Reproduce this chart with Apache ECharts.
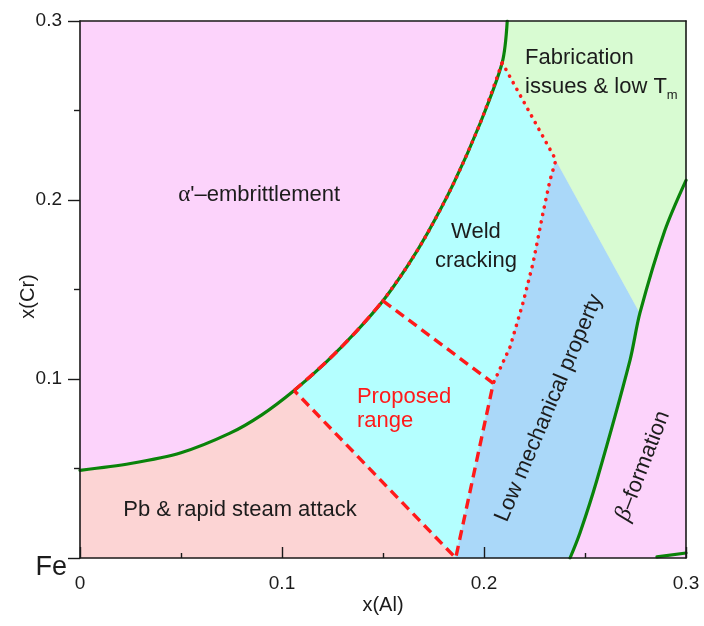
<!DOCTYPE html>
<html>
<head>
<meta charset="utf-8">
<script src="https://cdn.jsdelivr.net/npm/echarts@6/dist/echarts.min.js"></script>
<style>
  html, body { margin: 0; padding: 0; background: #ffffff; }
  #chart { width: 704px; height: 626px; }
</style>
</head>
<body>
<div id="chart"></div>
<script>
// Fe–Cr–Al composition map: x(Al) vs x(Cr), mole fractions.

// α' (Cr-rich) miscibility boundary
const alphaX = [0, 0.025, 0.05, 0.074, 0.09, 0.106, 0.122, 0.137, 0.150, 0.162, 0.172, 0.185, 0.198, 0.209, 0.2115];
const alphaY = [0.049, 0.0528, 0.0588, 0.0696, 0.08, 0.0936, 0.1096, 0.1268, 0.1437, 0.1629, 0.1814, 0.2094, 0.2426, 0.2767, 0.3];

// β-phase boundary
const betaX = [0.2426, 0.2475, 0.2559, 0.2723, 0.2772, 0.2896, 0.3];
const betaY = [0, 0.014, 0.0436, 0.1106, 0.1369, 0.1832, 0.211];

// short boundary along the bottom-right corner
const edgeX = [0.2856, 0.3];
const edgeY = [0.0006, 0.0028];

// weld-cracking limit (dotted), from the kink down to the proposed range
const weldX = [0.2356, 0.2327, 0.2292, 0.2243, 0.2193, 0.2129, 0.2046];
const weldY = [0.2223, 0.2112, 0.1927, 0.1648, 0.1425, 0.1179, 0.0976];

// proposed range: apex on the x(Al) axis
const apexX = [0.186];
const apexY = [0];

// axis ticks
const ticks = [0, 0.1, 0.2, 0.3];

const SANS = '"Liberation Sans", Arial, Helvetica, sans-serif';
const SERIF = '"Liberation Serif", "Times New Roman", serif';
const INK = '#1c1c1c';
const PINK = '#fcd3fb';
const GREEN = '#0a830a';
const RED = '#ff1a1a';
const SMOOTH = 0.3;

const pairs = (xs, ys) => xs.map((x, i) => [x, ys[i]]);
const alpha = pairs(alphaX, alphaY);
const beta = pairs(betaX, betaY);
const weld = pairs(weldX, weldY);
const apex = [apexX[0], apexY[0]];
const iLow = alphaX.indexOf(0.106), iMid = alphaX.indexOf(0.150), iTop = alphaX.indexOf(0.209);
const iBetaKnee = 4;
const corner = weld[weld.length - 1];
const vMax = ticks[ticks.length - 1];

// Fields below the α' boundary; the α' field itself is the area above the
// (smoothed) boundary line, drawn on top, so the curved edge stays exact.
const regions = [
  { color: '#fcd4d4', pts: [[0, 0], [0, vMax], [alpha[iLow][0], vMax], alpha[iLow], apex] },
  { color: '#b4ffff', pts: [alpha[iLow], [alpha[iLow][0], vMax], [alpha[iTop][0], vMax], alpha[iTop], ...weld, apex] },
  { color: '#aad8f9', pts: [apex, ...weld.slice().reverse(), beta[iBetaKnee], ...beta.slice(0, iBetaKnee).reverse()] },
  { color: '#d8fbd2', pts: [alpha[iTop], [alpha[iTop][0], vMax], [vMax, vMax], ...beta.slice(iBetaKnee).reverse(), weld[0]] }
];

const rich = {
  g: { fontFamily: SERIF, fontSize: 23 },
  gi: { fontFamily: SERIF, fontSize: 24, fontStyle: 'italic' },
  sub: { fontFamily: SANS, fontSize: 13, verticalAlign: 'bottom', padding: [8, 0, 0, 0] }
};

const notes = [
  { text: "{g|α}'–embrittlement", x: 0.0887, y: 0.2028 },
  { text: 'Pb & rapid steam attack', x: 0.0792, y: 0.0268 },
  { text: 'Fabrication\nissues & low T{sub|m}', x: 0.2203, y: 0.2712, align: 'left', lh: 29 },
  { text: 'Weld\ncracking', x: 0.196, y: 0.1743, lh: 29 },
  { text: 'Proposed\nrange', x: 0.1371, y: 0.0832, align: 'left', lh: 24, color: RED },
  { text: 'Low mechanical property', x: 0.2322, y: 0.0838, rotate: 67 },
  { text: '{gi|β}–formation', x: 0.2787, y: 0.0514, rotate: 69 }
];

const lineSeries = (data, style, extra) => Object.assign({
  type: 'line', data, showSymbol: false, symbol: 'none', silent: true,
  animation: false, z: style.z || 4,
  lineStyle: Object.assign({ cap: 'round', join: 'round' }, style)
}, extra || {});
const curved = { smooth: SMOOTH };

const axisLine = { show: true, onZero: false, lineStyle: { color: '#1a1a1a', width: 1.6 } };
const tickStyle = { color: '#1a1a1a', width: 1.4 };

const chart = echarts.init(document.getElementById('chart'), null, { renderer: 'canvas' });
chart.setOption({
  animation: false,
  backgroundColor: '#ffffff',
  grid: {
    left: 80, right: 18, top: 21, bottom: 68, outerBoundsMode: 'none', containLabel: false,
    show: true, backgroundColor: PINK, borderWidth: 0
  },
  xAxis: [
    {
      type: 'value', min: ticks[0], max: vMax, interval: 0.1, z: 10,
      name: 'x(Al)', nameLocation: 'middle', nameGap: 37, nameMoveOverlap: false,
      nameTextStyle: { fontFamily: SANS, fontSize: 20, color: INK },
      axisLine,
      axisTick: { show: true, inside: true, length: 11, lineStyle: tickStyle },
      minorTick: { show: true, splitNumber: 2, length: 5, lineStyle: tickStyle },
      splitLine: { show: false },
      axisLabel: { fontFamily: SANS, fontSize: 19, color: INK, margin: 16,
        formatter: v => (v === 0 ? '0' : v.toFixed(1)) }
    },
    {
      type: 'value', position: 'top', min: ticks[0], max: vMax, z: 10,
      axisLine, axisTick: { show: false }, axisLabel: { show: false }, splitLine: { show: false }
    }
  ],
  yAxis: [
    {
      type: 'value', min: ticks[0], max: vMax, interval: 0.1, z: 10,
      name: 'x(Cr)', nameLocation: 'middle', nameGap: 42, nameRotate: 90, nameMoveOverlap: false,
      nameTextStyle: { fontFamily: SANS, fontSize: 20, color: INK, padding: [0, 14, 0, 0] },
      axisLine,
      axisTick: { show: true, inside: false, length: 12, lineStyle: tickStyle },
      minorTick: { show: true, splitNumber: 2, length: 6, lineStyle: tickStyle },
      splitLine: { show: false },
      axisLabel: {
        fontFamily: SANS, fontSize: 19, color: INK, margin: 13,
        formatter: v => (v === 0 ? '{fe|Fe}' : '{n|' + v.toFixed(1) + '}'),
        rich: {
          fe: { fontFamily: SANS, fontSize: 27, color: INK, padding: [20, 0, 0, 0] },
          n: { fontFamily: SANS, fontSize: 19, color: INK, padding: [0, 5, 0, 0] }
        }
      }
    },
    {
      type: 'value', position: 'right', min: ticks[0], max: vMax, z: 10,
      axisLine, axisTick: { show: false }, axisLabel: { show: false }, splitLine: { show: false }
    }
  ],
  series: [
    {
      type: 'custom', silent: true, z: 1,
      data: regions.map(r => r.pts[0]),
      renderItem: (params, api) => {
        const reg = regions[params.dataIndex];
        return {
          type: 'polygon',
          shape: { points: reg.pts.map(p => api.coord(p)) },
          style: { fill: reg.color, stroke: reg.color, lineWidth: 0.6 }
        };
      }
    },
    // α' field: area between the boundary and the top of the plot
    lineSeries(alpha, { color: GREEN, width: 0, z: 2 },
      Object.assign({ z: 2, areaStyle: { color: PINK, opacity: 1, origin: 'end' } }, curved)),
    lineSeries(alpha, { color: GREEN, width: 3.2, z: 4 }, curved),
    lineSeries(beta, { color: GREEN, width: 3.2, z: 4 }, curved),
    lineSeries(pairs(edgeX, edgeY), { color: GREEN, width: 3.2, z: 4 }),
    // proposed range outline: boundary part and straight edges
    lineSeries(alpha.slice(iLow, iMid + 1), { color: RED, width: 3.4, type: [10, 6], cap: 'butt', z: 5 }, curved),
    lineSeries([alpha[iMid], corner, apex, alpha[iLow]], { color: RED, width: 3.4, type: [10, 6], cap: 'butt', z: 5 }),
    // weld-cracking limit: along the boundary, then the dotted edge
    lineSeries(alpha.slice(iMid, iTop + 1), { color: RED, width: 3.6, type: [0.1, 7.5], z: 5 }, curved),
    lineSeries([alpha[iTop], ...weld], { color: RED, width: 3.6, type: [0.1, 7.5], z: 5 }),
    {
      type: 'custom', silent: true, z: 6,
      data: notes.map(n => [n.x, n.y]),
      renderItem: (params, api) => {
        const n = notes[params.dataIndex];
        const p = api.coord([n.x, n.y]);
        return {
          type: 'text', x: p[0], y: p[1],
          rotation: ((n.rotate || 0) * Math.PI) / 180,
          style: {
            text: n.text, rich,
            fill: n.color || INK,
            fontFamily: SANS, fontSize: 22,
            lineHeight: n.lh || 26,
            align: n.align || 'center', verticalAlign: 'middle'
          }
        };
      }
    }
  ]
});
</script>
</body>
</html>
